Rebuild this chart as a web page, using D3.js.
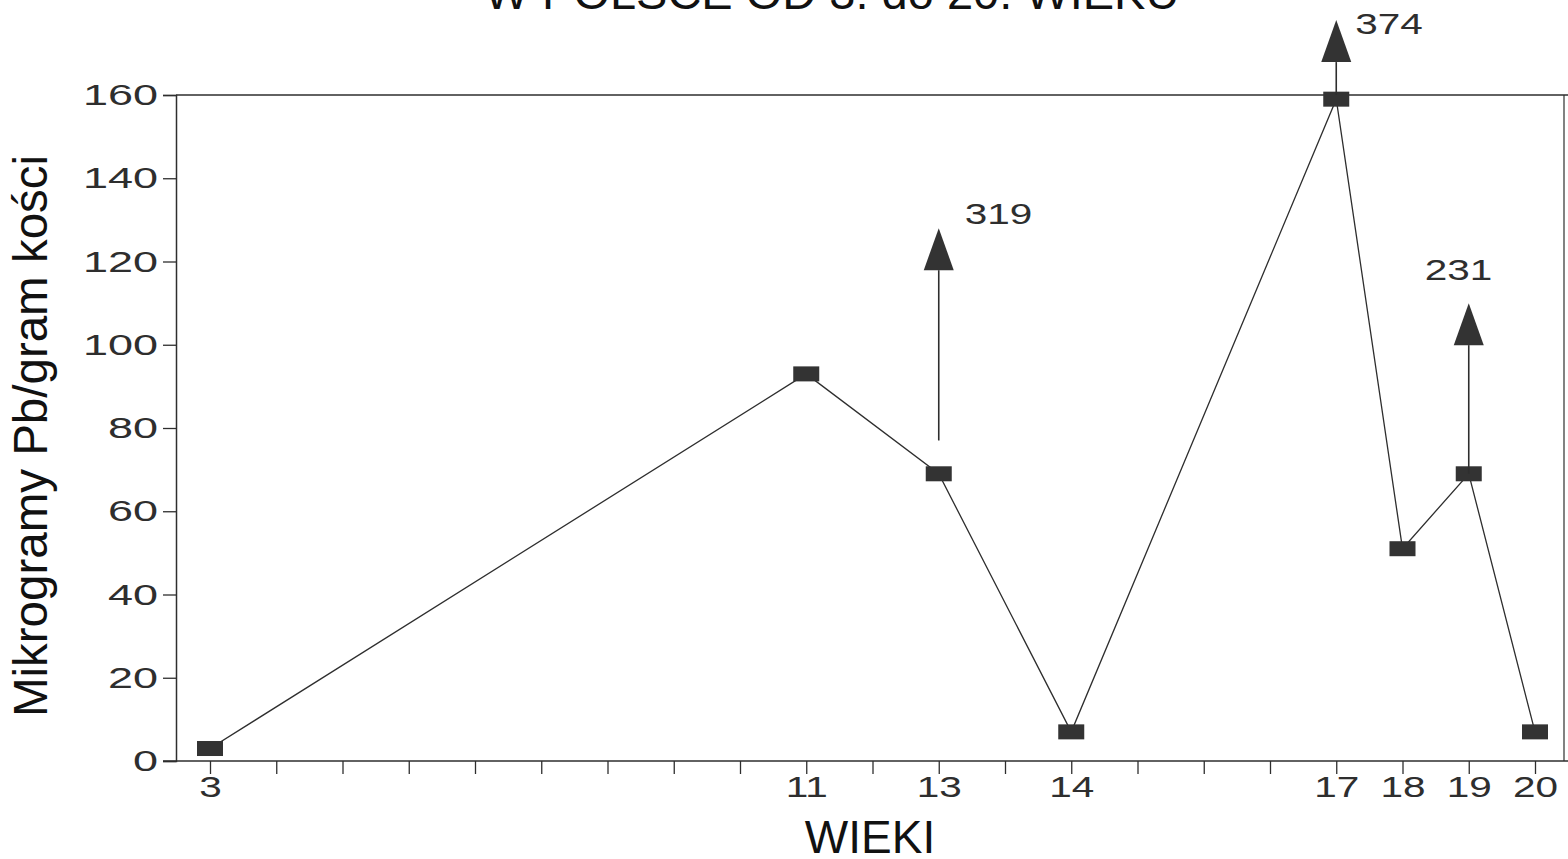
<!DOCTYPE html>
<html>
<head>
<meta charset="utf-8">
<script src="https://cdn.jsdelivr.net/npm/d3@7/dist/d3.min.js"></script>
<style>
  body { margin: 0; background: #fff; }
  svg { display: block; font-family: "Liberation Sans", Arial, sans-serif; }
</style>
</head>
<body>
<svg id="chart" width="1568" height="859"></svg>
<script>
// values
var ages   = ["3", "11", "13", "14", "17", "18", "19", "20"];
var slots  = [0, 9, 11, 13, 17, 18, 19, 20];   // tick position of each century on the axis
var lead   = [3, 93, 69, 7, 159, 51, 69, 7];    // micrograms Pb / gram bone
var yTicks = [0, 20, 40, 60, 80, 100, 120, 140, 160];

// off-scale values shown with arrows
var arrowAges   = ["13", "17", "19"];
var arrowFrom   = [77, 160, 69];
var arrowTip    = [128, 178, 110];
var arrowLabels = ["319", "374", "231"];

var svg = d3.select("#chart");
var ink = "#2e2e2e";

var x = d3.scaleLinear().domain([0, 20]).range([210, 1535]);
var y = d3.scaleLinear().domain([0, 160]).range([761, 95]);

function slotOf(age) { return slots[ages.indexOf(age)]; }

// frame
svg.append("line").attr("x1", 176).attr("x2", 1568).attr("y1", y(160)).attr("y2", y(160))
    .attr("stroke", ink).attr("stroke-width", 1.5);
svg.append("line").attr("x1", 1564).attr("x2", 1564).attr("y1", y(160)).attr("y2", y(0))
    .attr("stroke", ink).attr("stroke-width", 1.2);

// y axis
var yAxis = svg.append("g").attr("transform", "translate(176,0)")
    .call(d3.axisLeft(y).tickValues(yTicks).tickSize(13).tickPadding(5));
yAxis.select(".domain").attr("stroke", ink).attr("stroke-width", 1.5);
yAxis.selectAll(".tick line").attr("stroke", ink).attr("stroke-width", 1.3);
yAxis.selectAll(".tick text")
    .attr("font-size", 30).attr("fill", ink).attr("font-family", "Liberation Sans, Arial")
    .attr("x", -18 / 1.5).attr("transform", "scale(1.5,1)");

// x axis
var xAxis = svg.append("g").attr("transform", "translate(0," + y(0) + ")")
    .call(d3.axisBottom(x).tickValues(d3.range(0, 21)).tickSize(13).tickPadding(2)
        .tickFormat(function(d) { var i = slots.indexOf(d); return i < 0 ? "" : ages[i]; }));
xAxis.select(".domain").remove();
xAxis.append("line").attr("x1", 163).attr("x2", 1568).attr("stroke", ink).attr("stroke-width", 1.5);
xAxis.selectAll(".tick line").attr("stroke", ink).attr("stroke-width", 1.3);
xAxis.selectAll(".tick text")
    .attr("font-size", 30).attr("fill", ink).attr("font-family", "Liberation Sans, Arial")
    .attr("transform", "scale(1.35,1)");

// line
var line = d3.line()
    .x(function(d, i) { return x(slots[i]); })
    .y(function(d) { return y(d); });
svg.append("path").datum(lead)
    .attr("d", line).attr("fill", "none").attr("stroke", ink).attr("stroke-width", 1.3);

// square markers
svg.selectAll("rect.mark").data(lead).enter().append("rect")
    .attr("class", "mark")
    .attr("x", function(d, i) { return x(slots[i]) - 13; })
    .attr("y", function(d) { return y(d) - 7.5; })
    .attr("width", 26).attr("height", 15)
    .attr("fill", "#333");

// arrows
var labelOffset = [[26, -4], [19, 14], [-44, -23]];
arrowAges.forEach(function(a, k) {
    var ax = x(slotOf(a));
    var tip = y(arrowTip[k]);
    var base = tip + 42;
    svg.append("line").attr("x1", ax).attr("x2", ax)
        .attr("y1", y(arrowFrom[k])).attr("y2", base)
        .attr("stroke", ink).attr("stroke-width", 1.6);
    svg.append("path")
        .attr("d", "M" + ax + "," + tip + "L" + (ax + 15) + "," + base + "L" + (ax - 15) + "," + base + "Z")
        .attr("fill", "#333");
    svg.append("text")
        .attr("x", (ax + labelOffset[k][0]) / 1.35).attr("y", tip + labelOffset[k][1])
        .attr("transform", "scale(1.35,1)")
        .attr("font-size", 30).attr("fill", ink)
        .text(arrowLabels[k]);
});

// titles
svg.append("text").attr("x", 832).attr("y", 9).attr("text-anchor", "middle")
    .attr("font-size", 47).attr("fill", "#111")
    .text("W POLSCE OD 3. do 20. WIEKU");

svg.append("text").attr("x", 870).attr("y", 853).attr("text-anchor", "middle")
    .attr("font-size", 46).attr("fill", "#111")
    .text("WIEKI");

svg.append("text").attr("transform", "translate(47,436) rotate(-90)")
    .attr("text-anchor", "middle").attr("font-size", 47.5).attr("fill", "#111")
    .text("Mikrogramy Pb/gram kości");
</script>
</body>
</html>
